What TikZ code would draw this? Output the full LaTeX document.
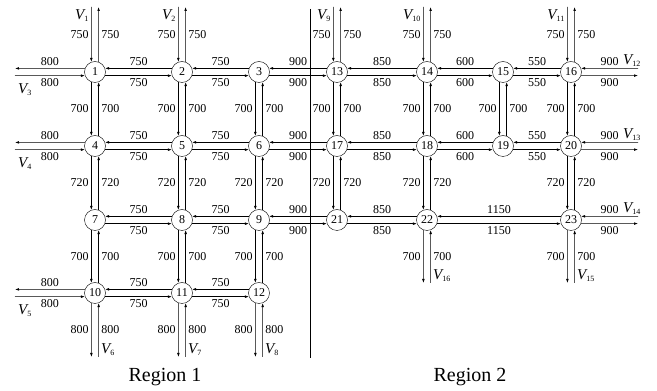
\documentclass[tikz,border=0pt]{standalone}
\usepackage{amsmath}
\usepackage{fontspec}
\setmainfont{Liberation Serif}
\usetikzlibrary{arrows.meta}

\newcommand{\vlab}[1]{$\mathit{V}_{\text{\fontsize{8}{9}\selectfont#1}}$}

\begin{document}
\begin{tikzpicture}[x=1pt, y=1pt, font=\fontsize{12}{14}\selectfont,
        junction/.style={circle, draw, minimum size=21pt, inner sep=0pt},
        flow/.style={-{Latex[length=4pt, width=2.6pt]}, line width=0.55pt},
        lbl/.style={inner sep=2.5pt},
        vname/.style={inner sep=0pt, font=\fontsize{15}{18}\selectfont}]
    \useasboundingbox (0, 0) rectangle (657, 391);

    % junctions
    \node[junction] (n1) at (95, 319) {1};
    \node[junction] (n2) at (182, 319) {2};
    \node[junction] (n3) at (259, 319) {3};
    \node[junction] (n13) at (337, 319) {13};
    \node[junction] (n14) at (427, 319) {14};
    \node[junction] (n15) at (503, 319) {15};
    \node[junction] (n16) at (571, 319) {16};
    \node[junction] (n4) at (95, 245) {4};
    \node[junction] (n5) at (182, 245) {5};
    \node[junction] (n6) at (259, 245) {6};
    \node[junction] (n17) at (337, 245) {17};
    \node[junction] (n18) at (427, 245) {18};
    \node[junction] (n19) at (503, 245) {19};
    \node[junction] (n20) at (571, 245) {20};
    \node[junction] (n7) at (95, 171) {7};
    \node[junction] (n8) at (182, 171) {8};
    \node[junction] (n9) at (259, 171) {9};
    \node[junction] (n21) at (337, 171) {21};
    \node[junction] (n22) at (427, 171) {22};
    \node[junction] (n23) at (571, 171) {23};
    \node[junction] (n10) at (95, 98) {10};
    \node[junction] (n11) at (182, 98) {11};
    \node[junction] (n12) at (259, 98) {12};

    % outer ends
    \coordinate (v1) at (95, 384);
    \coordinate (v2) at (182, 384);
    \coordinate (v9) at (337, 384);
    \coordinate (v10) at (427, 384);
    \coordinate (v11) at (571, 384);
    \coordinate (v3) at (15, 319);
    \coordinate (v4) at (15, 245);
    \coordinate (v5) at (15, 98);
    \coordinate (v12) at (638, 319);
    \coordinate (v13) at (638, 245);
    \coordinate (v14) at (638, 171);
    \coordinate (v6) at (95, 34);
    \coordinate (v7) at (182, 34);
    \coordinate (v8) at (259, 34);
    \coordinate (v16) at (427, 108);
    \coordinate (v15) at (571, 108);

    % links between junctions
    \foreach \a/\b/\d in {n1/n2/750, n2/n3/750, n3/n13/900, n13/n14/850,
            n14/n15/600, n15/n16/550, n4/n5/750, n5/n6/750, n6/n17/900,
            n17/n18/850, n18/n19/600, n19/n20/550, n7/n8/750, n8/n9/750,
            n9/n21/900, n21/n22/850, n22/n23/1150, n10/n11/750, n11/n12/750} {
        \draw[flow] (\b.160) -- (\a.20) node[lbl, midway, above] {\d};
        \draw[flow] (\a.-20) -- (\b.200) node[lbl, midway, below] {\d};
    }
    \foreach \a/\b/\d in {n1/n4/700, n2/n5/700, n3/n6/700, n13/n17/700,
            n14/n18/700, n15/n19/700, n16/n20/700, n4/n7/720, n5/n8/720,
            n6/n9/720, n17/n21/720, n18/n22/720, n20/n23/720, n7/n10/700,
            n8/n11/700, n9/n12/700} {
        \draw[flow] (\a.250) -- (\b.110) node[lbl, midway, left] {\d};
        \draw[flow] (\b.70) -- (\a.290) node[lbl, midway, right] {\d};
    }

    % links to the outside
    \foreach \n/\v/\d/\s in {n1/v1/750/1, n2/v2/750/2, n13/v9/750/9,
            n14/v10/750/10, n16/v11/750/11} {
        \draw[flow] ([xshift=-3.6pt]\v) -- (\n.110) node[lbl, midway, left] {\d};
        \draw[flow] (\n.70) -- ([xshift=3.6pt]\v) node[lbl, midway, right] {\d};
        \node[vname, anchor=east] (l\v) at ([xshift=-6pt, yshift=-9pt]\v) {\vlab{\s}};
    }
    \foreach \n/\v/\d/\s in {n1/v3/800/3, n4/v4/800/4, n10/v5/800/5} {
        \draw[flow] ([yshift=-3.6pt]\v) -- (\n.200) node[lbl, midway, below] {\d};
        \draw[flow] (\n.160) -- ([yshift=3.6pt]\v) node[lbl, midway, above] {\d};
        \node[vname, anchor=west] (l\v) at ([xshift=3pt, yshift=-18pt]\v) {\vlab{\s}};
    }
    \foreach \n/\v/\d/\s in {n16/v12/900/12, n20/v13/900/13, n23/v14/900/14} {
        \draw[flow] ([yshift=3.6pt]\v) -- (\n.20) node[lbl, midway, above] {\d};
        \draw[flow] (\n.-20) -- ([yshift=-3.6pt]\v) node[lbl, midway, below] {\d};
        \node[vname] (l\v) at ([xshift=-6pt, yshift=11pt]\v) {\vlab{\s}};
    }
    \foreach \n/\v/\d/\s in {n10/v6/800/6, n11/v7/800/7, n12/v8/800/8,
            n22/v16/700/16, n23/v15/700/15} {
        \draw[flow] ([xshift=3.6pt]\v) -- (\n.290) node[lbl, midway, right] {\d};
        \draw[flow] (\n.250) -- ([xshift=-3.6pt]\v) node[lbl, midway, left] {\d};
        \node[vname, anchor=west] (l\v) at ([xshift=6pt, yshift=7pt]\v) {\vlab{\s}};
    }

    % region border
    \draw[line width=0.6pt] (310, 382) -- (310, 33);
    \node[font=\fontsize{20}{24}\selectfont] (region1) at (165, 14) {Region 1};
    \node[font=\fontsize{20}{24}\selectfont] (region2) at (470, 14) {Region 2};
\end{tikzpicture}
\end{document}
